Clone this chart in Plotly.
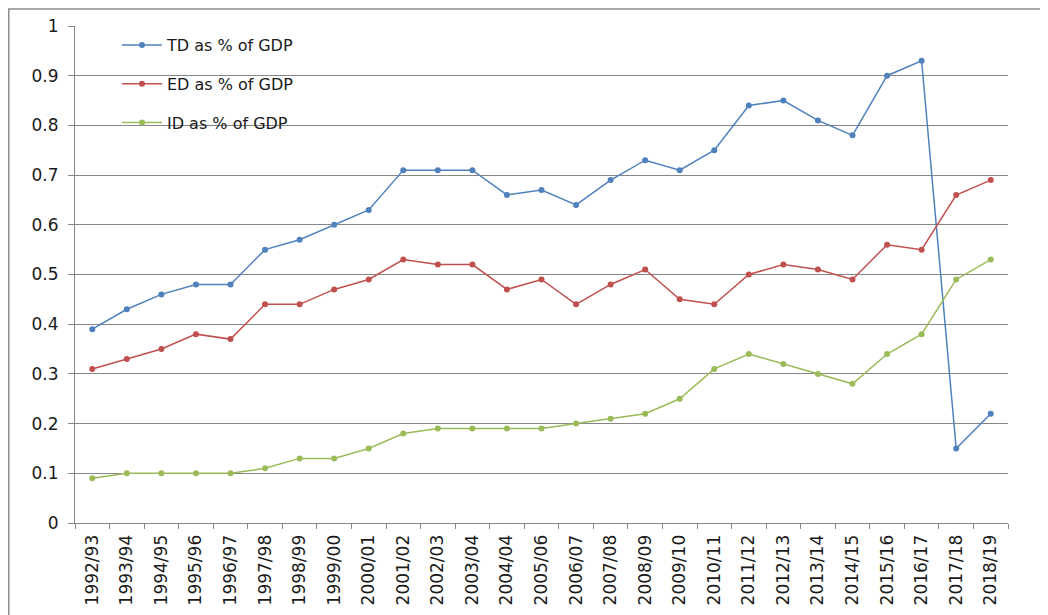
import plotly.graph_objects as go

years = [
    "1992/93", "1993/94", "1994/95", "1995/96", "1996/97", "1997/98", "1998/99",
    "1999/00", "2000/01", "2001/02", "2002/03", "2003/04", "2004/04", "2005/06",
    "2006/07", "2007/08", "2008/09", "2009/10", "2010/11", "2011/12", "2012/13",
    "2013/14", "2014/15", "2015/16", "2016/17", "2017/18", "2018/19",
]
td_pct = [0.39, 0.43, 0.46, 0.48, 0.48, 0.55, 0.57, 0.60, 0.63, 0.71, 0.71, 0.71, 0.66, 0.67,
          0.64, 0.69, 0.73, 0.71, 0.75, 0.84, 0.85, 0.81, 0.78, 0.90, 0.93, 0.15, 0.22]
ed_pct = [0.31, 0.33, 0.35, 0.38, 0.37, 0.44, 0.44, 0.47, 0.49, 0.53, 0.52, 0.52, 0.47, 0.49,
          0.44, 0.48, 0.51, 0.45, 0.44, 0.50, 0.52, 0.51, 0.49, 0.56, 0.55, 0.66, 0.69]
id_pct = [0.09, 0.10, 0.10, 0.10, 0.10, 0.11, 0.13, 0.13, 0.15, 0.18, 0.19, 0.19, 0.19, 0.19,
          0.20, 0.21, 0.22, 0.25, 0.31, 0.34, 0.32, 0.30, 0.28, 0.34, 0.38, 0.49, 0.53]

series = [
    ("TD as % of GDP", td_pct, "#4F81BD"),
    ("ED as % of GDP", ed_pct, "#C0504D"),
    ("ID as % of GDP", id_pct, "#9BBB59"),
]

fig = go.Figure()
for name, vals, color in series:
    fig.add_trace(go.Scatter(
        x=years, y=vals, name=name, mode="lines+markers",
        legendgroup=name,
        line=dict(color=color, width=1.5),
        marker=dict(color=color, size=6),
    ))

# the page body has an 8px margin, so the figure is sized to end at the window edge
fig.update_layout(
    width=1040, height=607,
    paper_bgcolor="white", plot_bgcolor="white",
    font=dict(family="DejaVu Sans", size=16, color="#1a1a1a"),
    margin=dict(l=67, r=40, t=18, b=92),
    showlegend=True,
    legend=dict(
        x=0.045, y=0.996, xanchor="left", yanchor="top",
        bgcolor="rgba(0,0,0,0)", tracegroupgap=15,
        font=dict(size=16), itemwidth=40,
    ),
    # outer chart border (left/top visible in the reference)
    shapes=[dict(type="rect", xref="paper", yref="paper",
                 x0=-0.071, x1=1.06, y0=-0.25, y1=1.034,
                 line=dict(color="#8c8c8c", width=1.5), layer="below")],
)
fig.update_xaxes(
    type="category", range=[-0.5, len(years) - 0.5], automargin=False,
    tickangle=-90, tickson="boundaries",
    ticks="outside", ticklen=5, tickcolor="#868686",
    showline=True, linecolor="#868686", linewidth=1,
    showgrid=False, tickfont=dict(size=17), ticklabelstandoff=4,
)
fig.update_yaxes(
    range=[0, 1], dtick=0.1, tickformat="~g", automargin=False,
    ticks="outside", ticklen=6, tickcolor="#868686",
    showline=True, linecolor="#868686", linewidth=1,
    showgrid=True, gridcolor="#868686", gridwidth=1,
    zeroline=False, tickfont=dict(size=17), ticklabelstandoff=6,
)

fig.write_html("out.html")
